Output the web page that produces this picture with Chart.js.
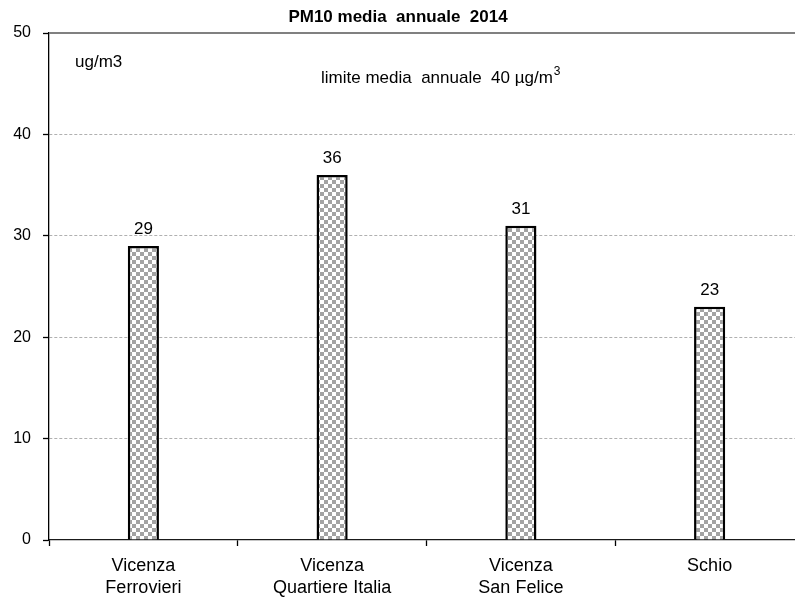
<!DOCTYPE html>
<html>
<head>
<meta charset="utf-8">
<title>PM10 media annuale 2014</title>
<script src="https://cdn.jsdelivr.net/npm/chart.js@4/dist/chart.umd.min.js"></script>
<style>
  html, body { margin: 0; padding: 0; background: #fff; overflow: hidden; }
  #wrap { width: 804px; height: 601px; }
</style>
</head>
<body>
<div id="wrap"><canvas id="c"></canvas></div>
<script>
// Stations and annual PM10 means (µg/m3)
const stations = [
  ['Vicenza', 'Ferrovieri'],
  ['Vicenza', 'Quartiere Italia'],
  ['Vicenza', 'San Felice'],
  ['Schio']
];
const annualMeans = [29, 36, 31, 23];
const yMin = 0, yMax = 50, yStep = 10;
const chartTitle = 'PM10 media  annuale  2014';
const unitNote = 'ug/m3';
const limitNote = 'limite media  annuale  40 µg/m';
const limitNoteSup = '3';

const FONT = '"Liberation Sans", Arial, Helvetica, sans-serif';

// Grey/white checkerboard fill for the bars
function checkerPattern() {
  const s = 4;
  const cv = document.createElement('canvas');
  cv.width = s * 2; cv.height = s * 2;
  const g = cv.getContext('2d');
  g.fillStyle = '#ffffff';
  g.fillRect(0, 0, s * 2, s * 2);
  g.fillStyle = '#a3a3a3';
  g.fillRect(0, 0, s, s);
  g.fillRect(s, s, s, s);
  return g.createPattern(cv, 'repeat');
}

// Value labels above each bar + the two notes inside the plot area
const overlay = {
  id: 'overlay',
  afterDraw(chart) {
    const ctx = chart.ctx;
    const area = chart.chartArea;
    ctx.save();
    // solid frame line along the top of the plot
    ctx.strokeStyle = '#808080';
    ctx.lineWidth = 2;
    ctx.beginPath();
    ctx.moveTo(area.left, area.top);
    ctx.lineTo(area.right, area.top);
    ctx.stroke();

    ctx.fillStyle = '#000';
    ctx.font = '17px ' + FONT;
    ctx.textAlign = 'center';
    ctx.textBaseline = 'bottom';
    const meta = chart.getDatasetMeta(0);
    meta.data.forEach((bar, i) => {
      const v = chart.data.datasets[0].data[i];
      ctx.fillText(String(v), bar.x, bar.y - 8);
    });

    ctx.textAlign = 'left';
    ctx.textBaseline = 'middle';
    ctx.font = '17px ' + FONT;
    ctx.fillText(unitNote, area.left + 26, area.top + 29);
    const lx = area.left + 272, ly = area.top + 45;
    ctx.fillText(limitNote, lx, ly);
    const w = ctx.measureText(limitNote).width;
    ctx.font = '12px ' + FONT;
    ctx.fillText(limitNoteSup, lx + w + 1, ly - 6);
    ctx.restore();
  }
};

new Chart(document.getElementById('c'), {
  type: 'bar',
  data: {
    labels: stations,
    datasets: [{
      data: annualMeans,
      backgroundColor: checkerPattern(),
      borderColor: '#000',
      borderWidth: 2.5,
      categoryPercentage: 1,
      barPercentage: 0.165
    }]
  },
  options: {
    responsive: true,
    maintainAspectRatio: false,
    animation: false,
    devicePixelRatio: 1,
    layout: { padding: { left: -8, right: 0, top: 0, bottom: 0 } },
    plugins: {
      legend: { display: false },
      tooltip: { enabled: false },
      title: {
        display: true,
        text: chartTitle,
        color: '#000',
        font: { family: FONT, size: 17, weight: 'bold', lineHeight: 1.06 },
        padding: { top: 8, bottom: 7 }
      }
    },
    scales: {
      x: {
        offset: true,
        grid: {
          offset: true,
          drawOnChartArea: false,
          drawTicks: true,
          tickLength: 6,
          tickColor: '#000',
          tickWidth: 1.3
        },
        border: { color: '#1a1a1a', width: 1.3 },
        ticks: {
          color: '#000',
          padding: 10,
          maxRotation: 0,
          autoSkip: false,
          font: { family: FONT, size: 18, lineHeight: 1.17 }
        },
        afterFit(s) { s.height = 61; }
      },
      y: {
        min: yMin,
        max: yMax,
        grid: {
          color: (c) => (c.tick && (c.tick.value === yMin || c.tick.value === yMax)) ? 'rgba(0,0,0,0)' : '#b0b0b0',
          lineWidth: 1,
          drawTicks: true,
          tickLength: 6,
          tickColor: '#000',
          tickWidth: 1.3,
          tickBorderDash: []
        },
        border: { color: '#000', width: 1.3, dash: [3, 2] },
        ticks: {
          stepSize: yStep,
          color: '#000',
          padding: 12,
          font: { family: FONT, size: 16 }
        },
        afterFit(s) { s.width = 57; }
      }
    }
  },
  plugins: [overlay]
});
</script>
</body>
</html>
